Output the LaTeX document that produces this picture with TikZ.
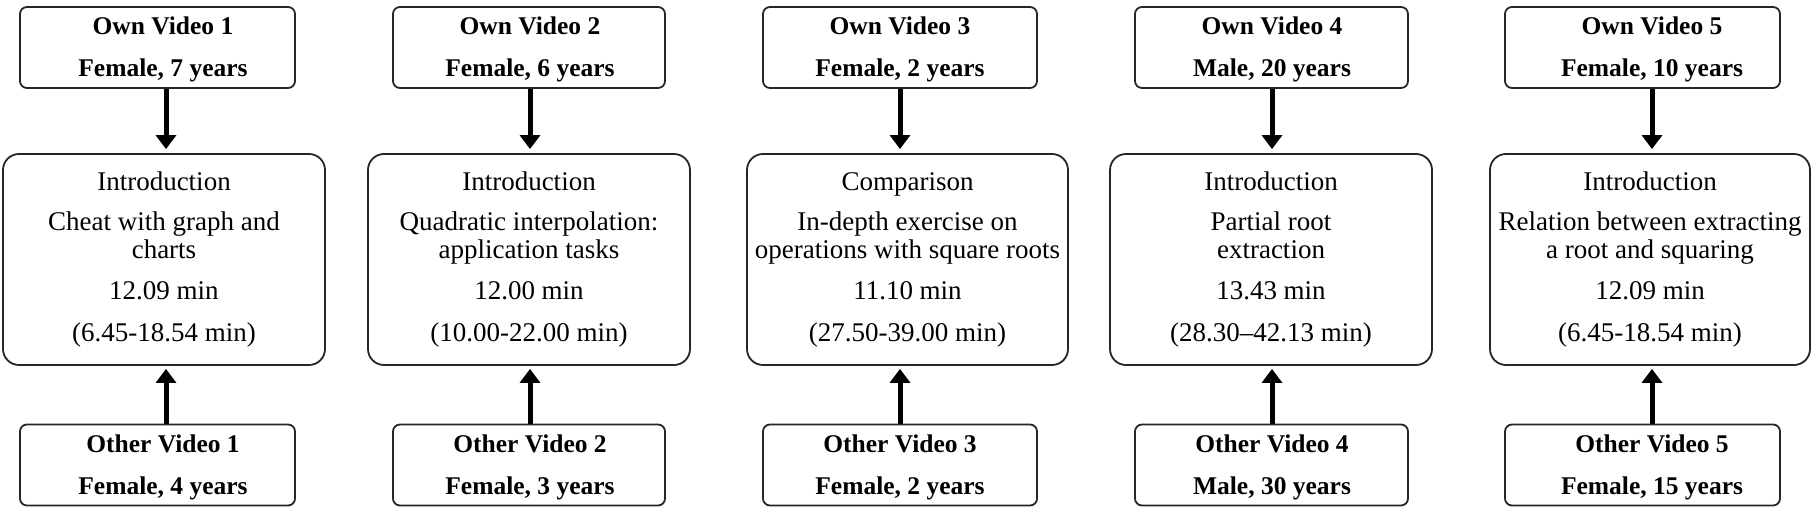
\documentclass[tikz,border=0pt]{standalone}
\usepackage{fontspec}
\setmainfont{Liberation Serif}
\usetikzlibrary{arrows.meta}
\tikzset{
  smallbox/.style={draw=black!85, line width=1.8pt, rounded corners=7pt, minimum height=81pt, inner sep=0pt},
  bigbox/.style={draw=black!85, line width=1.8pt, rounded corners=16pt, minimum height=211pt, inner sep=0pt, align=center, font=\fontsize{27}{28}\selectfont},
  labeltext/.style={align=center, inner sep=0pt, font=\fontsize{25.5}{42}\selectfont\bfseries},
  flow/.style={line width=5pt, -{Triangle[length=14pt,width=20pt]}}
}
\begin{document}
\begin{tikzpicture}[x=1pt,y=-1pt]
\useasboundingbox (0,0) rectangle (1816,516);
\fill[white] (0,0) rectangle (1816,516);

% arrow axes
\coordinate (a1) at (166,0);
\coordinate (a2) at (530,0);
\coordinate (a3) at (900,0);
\coordinate (a4) at (1272,0);
\coordinate (a5) at (1652,0);

% column 1
\node[smallbox, minimum width=275pt] (t1) at (157.5,47.5) {};
\node[labeltext] (tt1) at (163,49) {Own Video 1\\Female, 7 years};
\node[bigbox, minimum width=322pt] (m1) at (164,259.5) {\raisebox{-2pt}{Introduction}\\[14pt]Cheat with graph and\\charts\\[13pt]12.09 min\\[14pt](6.45-18.54 min)};
\node[smallbox, minimum width=275pt] (b1) at (157.5,465) {};
\node[labeltext] (bt1) at (163,467) {Other Video 1\\Female, 4 years};

% column 2
\node[smallbox, minimum width=272pt] (t2) at (529,47.5) {};
\node[labeltext] (tt2) at (530,49) {Own Video 2\\Female, 6 years};
\node[bigbox, minimum width=322pt] (m2) at (529,259.5) {\raisebox{-2pt}{Introduction}\\[14pt]Quadratic interpolation:\\application tasks\\[13pt]12.00 min\\[14pt](10.00-22.00 min)};
\node[smallbox, minimum width=272pt] (b2) at (529,465) {};
\node[labeltext] (bt2) at (530,467) {Other Video 2\\Female, 3 years};

% column 3
\node[smallbox, minimum width=274pt] (t3) at (900,47.5) {};
\node[labeltext] (tt3) at (900,49) {Own Video 3\\Female, 2 years};
\node[bigbox, minimum width=321pt] (m3) at (907.5,259.5) {\raisebox{-2pt}{Comparison}\\[14pt]In-depth exercise on\\operations with square roots\\[13pt]11.10 min\\[14pt](27.50-39.00 min)};
\node[smallbox, minimum width=274pt] (b3) at (900,465) {};
\node[labeltext] (bt3) at (900,467) {Other Video 3\\Female, 2 years};

% column 4
\node[smallbox, minimum width=273pt] (t4) at (1271.5,47.5) {};
\node[labeltext] (tt4) at (1272,49) {Own Video 4\\Male, 20 years};
\node[bigbox, minimum width=322pt] (m4) at (1271,259.5) {\raisebox{-2pt}{Introduction}\\[14pt]Partial root\\extraction\\[13pt]13.43 min\\[14pt](28.30–42.13 min)};
\node[smallbox, minimum width=273pt] (b4) at (1271.5,465) {};
\node[labeltext] (bt4) at (1272,467) {Other Video 4\\Male, 30 years};

% column 5
\node[smallbox, minimum width=275pt] (t5) at (1642.5,47.5) {};
\node[labeltext] (tt5) at (1652,49) {Own Video 5\\Female, 10 years};
\node[bigbox, minimum width=320pt] (m5) at (1650,259.5) {\raisebox{-2pt}{Introduction}\\[14pt]Relation between extracting\\a root and squaring\\[13pt]12.09 min\\[14pt](6.45-18.54 min)};
\node[smallbox, minimum width=275pt] (b5) at (1642.5,465) {};
\node[labeltext] (bt5) at (1652,467) {Other Video 5\\Female, 15 years};

% connectors
\foreach \i in {1,...,5}{
  \draw[flow, shorten >=4pt] (t\i.south -| a\i) -- (m\i.north -| a\i);
  \draw[flow, shorten >=3pt] (b\i.north -| a\i) -- (m\i.south -| a\i);
}
\end{tikzpicture}
\end{document}
